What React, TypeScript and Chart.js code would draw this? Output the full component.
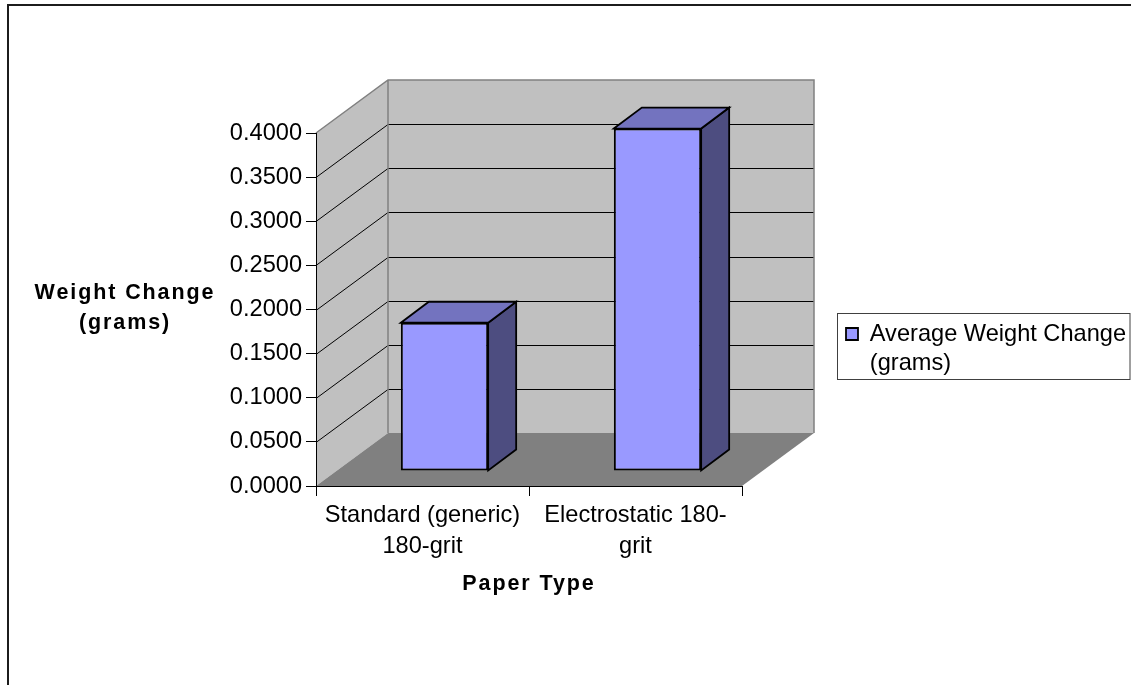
import React, { useEffect, useRef } from "react";
import { Chart, registerables } from "chart.js";

Chart.register(...registerables);

const categories = [["Standard (generic)", "180-grit"], ["Electrostatic 180-", "grit"]];
const seriesName = ["Average Weight Change", "(grams)"];
const weightChange = [0.168, 0.388];
const yTitle = ["Weight Change", "(grams)"];
const xTitle = "Paper Type";

const FONT = "'Liberation Sans', Arial, sans-serif";
const WALL = { dx: 72, dy: -53 };
const BAR_SHIFT = { dx: 22, dy: -15 };
const BAR_DEPTH = { dx: 28, dy: -21 };

function poly(ctx: any, pts: number[][], fill: string | null, stroke: string | null, lw = 1) {
  ctx.beginPath();
  pts.forEach((p, i) => (i ? ctx.lineTo(p[0], p[1]) : ctx.moveTo(p[0], p[1])));
  ctx.closePath();
  if (fill) { ctx.fillStyle = fill; ctx.fill(); }
  if (stroke) { ctx.strokeStyle = stroke; ctx.lineWidth = lw; ctx.lineJoin = "miter"; ctx.stroke(); }
}

const scene = {
  id: "scene",
  beforeDraw(chart: any) {
    const { ctx, chartArea: a, scales } = chart;
    const { left: l, right: r, top: t, bottom: b } = a;
    const { dx, dy } = WALL;
    ctx.save();
    ctx.fillStyle = "#fff";
    ctx.fillRect(0, 0, chart.width, chart.height);
    ctx.strokeStyle = "#1c1c1c";
    ctx.lineWidth = 2;
    ctx.beginPath();
    ctx.moveTo(8, chart.height + 2);
    ctx.lineTo(8, 5);
    ctx.lineTo(chart.width + 2, 5);
    ctx.stroke();

    poly(ctx, [[l, t], [l + dx, t + dy], [l + dx, b + dy], [l, b]], "#c0c0c0", null);
    poly(ctx, [[l + dx, t + dy], [r + dx, t + dy], [r + dx, b + dy], [l + dx, b + dy]], "#c0c0c0", null);
    poly(ctx, [[l, b], [r, b], [r + dx, b + dy], [l + dx, b + dy]], "#808080", null);

    ctx.lineWidth = 1;
    ctx.strokeStyle = "#000";
    const ticks = scales.y.ticks;
    ticks.forEach((tk: any, i: number) => {
      if (i === 0 || i === ticks.length - 1) return;
      const y = Math.round(scales.y.getPixelForValue(tk.value)) + 0.5;
      ctx.beginPath();
      ctx.moveTo(l, y);
      ctx.lineTo(l + dx, y + dy);
      ctx.lineTo(r + dx, y + dy);
      ctx.stroke();
    });
    ctx.strokeStyle = "#808080";
    ctx.lineWidth = 1.5;
    ctx.beginPath();
    ctx.moveTo(l, t);
    ctx.lineTo(l + dx, t + dy);
    ctx.lineTo(r + dx, t + dy);
    ctx.lineTo(r + dx, b + dy);
    ctx.moveTo(l + dx, t + dy);
    ctx.lineTo(l + dx, b + dy);
    ctx.stroke();

    // legend frame
    ctx.lineWidth = 1;
    ctx.strokeStyle = "#404040";
    ctx.strokeRect(837.5, 313.5, 292.5, 66);

    // axis titles
    ctx.fillStyle = "#000";
    ctx.textAlign = "center";
    ctx.textBaseline = "middle";
    ctx.font = `bold 21.5px ${FONT}`;
    (ctx as any).letterSpacing = "1.9px";
    yTitle.forEach((s, i) => ctx.fillText(s, 125, 293 + i * 30));
    ctx.fillText(xTitle, 529, 584);
    ctx.restore();
  },
  beforeDatasetsDraw(chart: any) {
    chart.ctx.save();
    chart.ctx.translate(BAR_SHIFT.dx, BAR_SHIFT.dy);
  },
  afterDatasetsDraw(chart: any) {
    const ctx = chart.ctx;
    ctx.restore();
    ctx.save();
    const { dx, dy } = BAR_DEPTH;
    chart.getDatasetMeta(0).data.forEach((el: any) => {
      const p = el.getProps(["x", "y", "base", "width"], true);
      const x0 = p.x - p.width / 2 + BAR_SHIFT.dx;
      const x1 = p.x + p.width / 2 + BAR_SHIFT.dx;
      const top = p.y + BAR_SHIFT.dy;
      const bot = p.base + BAR_SHIFT.dy;
      poly(ctx, [[x1, top], [x1 + dx, top + dy], [x1 + dx, bot + dy], [x1, bot]], "#4d4d80", "#000", 1.8);
      poly(ctx, [[x0, top], [x0 + dx, top + dy], [x1 + dx, top + dy], [x1, top]], "#7373bf", "#000", 1.8);
    });
    ctx.restore();
  },
  afterLayout(chart: any) {
    const lg = chart.legend;
    const w = lg.width, h = lg.height;
    lg.left = 836;
    lg.top = 312.2;
    lg.right = lg.left + w;
    lg.bottom = lg.top + h;
  },
};

export default function App() {
  const ref = useRef<HTMLCanvasElement>(null);
  useEffect(() => {
    const chart = new Chart(ref.current as HTMLCanvasElement, {
      type: "bar",
      plugins: [scene],
      data: {
        labels: categories as any,
        datasets: [{
          label: seriesName.join(" "),
          data: weightChange,
          backgroundColor: "#9999ff",
          borderColor: "#000",
          borderWidth: 2,
          borderSkipped: false,
          barPercentage: 0.41,
          categoryPercentage: 1,
          clip: false as any,
        }],
      },
      options: {
        animation: false,
        responsive: false,
        layout: { padding: { left: 0, top: 133, right: 389, bottom: 0 } },
        scales: {
          x: {
            afterFit: (s: any) => { s.height = 199; },
            grid: { drawOnChartArea: false, color: "#000", tickLength: 10, tickColor: "#000" },
            border: { color: "#000", width: 1 },
            ticks: {
              color: "#000",
              maxRotation: 0,
              autoSkip: false,
              padding: 4,
              font: { family: FONT, size: 23.6, lineHeight: 1.3 },
            },
          },
          y: {
            min: 0,
            max: 0.4,
            afterFit: (s: any) => { s.width = 316; },
            grid: { drawOnChartArea: false, color: "#000", tickLength: 10, tickColor: "#000" },
            border: { color: "#000", width: 1 },
            ticks: {
              stepSize: 0.05,
              color: "#000",
              padding: 4,
              font: { family: FONT, size: 23.6 },
              callback: (v: any) => Number(v).toFixed(4),
            },
          },
        },
        plugins: {
          title: { display: false },
          tooltip: { enabled: false },
          legend: {
            display: true,
            position: "chartArea" as any,
            align: "start",
            labels: {
              color: "#000",
              boxWidth: 12,
              boxHeight: 12,
              padding: 10,
              font: { family: FONT, size: 23.6, lineHeight: 1.25 },
              generateLabels: () => [{
                text: seriesName as any,
                fillStyle: "#9999ff",
                strokeStyle: "#000",
                lineWidth: 1.8,
                hidden: false,
                datasetIndex: 0,
              }],
            },
          },
        },
      },
    });
    return () => chart.destroy();
  }, []);
  return (
    <div style={{ position: "fixed", left: 0, top: 0, width: 1131, height: 685, overflow: "hidden", background: "#fff" }}>
      <canvas ref={ref} width={1131} height={685} style={{ display: "block" }} />
    </div>
  );
}
